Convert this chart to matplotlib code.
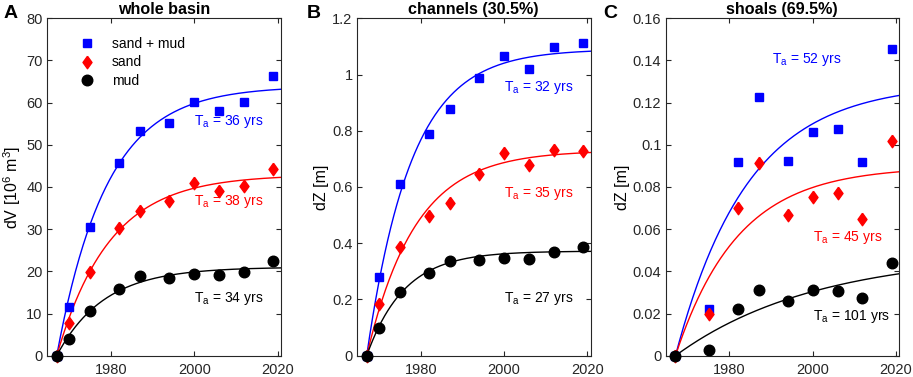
import matplotlib.pyplot as plt
import numpy as np
from matplotlib.ticker import FuncFormatter

plt.rcParams['font.family'] = ['Liberation Sans', 'DejaVu Sans']
plt.rcParams['mathtext.fontset'] = 'custom'
plt.rcParams['mathtext.rm'] = 'Liberation Sans'
plt.rcParams['mathtext.it'] = 'Liberation Sans'

# survey years
years = [1967, 1970, 1975, 1982, 1987, 1994, 2000, 2006, 2012, 2019]
t0 = 1967

# panel A: whole basin, dV [10^6 m3]
a_total = [0, 11.5, 30.4, 45.8, 53.3, 55.1, 60.1, 58.1, 60.1, 66.4]
a_sand = [0, 7.8, 19.8, 30.2, 34.4, 36.6, 41.0, 39.1, 40.3, 44.3]
a_mud = [0, 3.9, 10.7, 15.7, 18.9, 18.4, 19.3, 19.1, 19.9, 22.5]
a_ta = [36, 38, 34]
a_amp = [63.9, 42.9, 21.0]

# panel B: channels, dZ [m]
b_total = [0, 0.279, 0.609, 0.790, 0.879, 0.988, 1.067, 1.020, 1.099, 1.113]
b_sand = [0, 0.183, 0.385, 0.498, 0.542, 0.646, 0.721, 0.677, 0.730, 0.728]
b_mud = [0, 0.097, 0.226, 0.293, 0.338, 0.340, 0.349, 0.345, 0.370, 0.387]
b_ta = [32, 35, 27]
b_amp = [1.09, 0.73, 0.372]

# panel C: shoals, dZ [m] (no 1970 survey)
c_total = [0, np.nan, 0.0221, 0.092, 0.1228, 0.0925, 0.1061, 0.1075, 0.0919, 0.1456]
c_sand = [0, np.nan, 0.0196, 0.0699, 0.0915, 0.0666, 0.0751, 0.0770, 0.0648, 0.102]
c_mud = [0, np.nan, 0.0027, 0.0223, 0.0311, 0.0261, 0.0311, 0.0307, 0.0272, 0.0440]
c_ta = [52, 45, 101]
c_amp = [0.1292, 0.0897, 0.0487]

colors = ['#0000ff', '#ff0000', '#000000']
labels = ['sand + mud', 'sand', 'mud']
diamond = [(0, 1), (0.72, 0), (0, -1), (-0.72, 0), (0, 1)]
markers = ['s', diamond, 'o']
msizes = [6.2, 9.0, 7.6]

panels = [
    dict(letter='A', title='whole basin', ylabel='dV [10$^6$ m$^3$]',
         data=[a_total, a_sand, a_mud], ta=a_ta, amp=a_amp, ylim=(0, 80),
         yticks=np.arange(0, 81, 10),
         txt=[(2000, 55.5), (2000, 36.5), (2000, 13.6)],
         left=46.7, right=281.0, letter_x=4),
    dict(letter='B', title='channels (30.5%)', ylabel='dZ [m]',
         data=[b_total, b_sand, b_mud], ta=b_ta, amp=b_amp, ylim=(0, 1.2),
         yticks=np.arange(0, 1.21, 0.2),
         txt=[(2000, 0.955), (2000, 0.578), (2000, 0.202)],
         left=356.7, right=590.7, letter_x=307),
    dict(letter='C', title='shoals (69.5%)', ylabel='dZ [m]',
         data=[c_total, c_sand, c_mud], ta=c_ta, amp=c_amp, ylim=(0, 0.16),
         yticks=np.arange(0, 0.161, 0.02),
         txt=[(1990.3, 0.1406), (2000, 0.0561), (2000, 0.0185)],
         left=665.5, right=899.0, letter_x=603),
]

W, H = 913, 377
fig = plt.figure(figsize=(W / 100, H / 100), dpi=100)

tfit = np.linspace(t0, 2021, 300)

for p in panels:
    ax = fig.add_axes([p['left'] / W, (H - 355.7) / H,
                       (p['right'] - p['left']) / W, 337.4 / H])
    for k in range(3):
        # saturation fit, Ta = time to reach 95% of the final value
        yfit = p['amp'][k] * (1 - np.exp(-3 * (tfit - t0) / p['ta'][k]))
        ax.plot(tfit, yfit, color=colors[k], lw=1.0, zorder=2)
    for k in range(3):
        ax.plot(years, p['data'][k], linestyle='none', marker=markers[k],
                ms=msizes[k], color=colors[k], mec=colors[k],
                label=labels[k], zorder=3 + k, clip_on=False)
    for k in range(3):
        x, y = p['txt'][k]
        ax.text(x, y, 'T$_\\mathrm{a}$ = %d yrs' % p['ta'][k], color=colors[k],
                fontsize=10, ha='left', va='center')

    ax.set_xlim(1964.6, 2020.8)
    ax.set_ylim(*p['ylim'])
    ax.set_xticks([1980, 2000, 2020])
    ax.set_yticks(p['yticks'])
    ax.yaxis.set_major_formatter(FuncFormatter(lambda v, pos: '%g' % round(v, 4)))
    ax.tick_params(direction='in', top=True, right=True, length=3.5,
                   width=0.8, labelsize=10.5, colors='#262626', pad=3)
    ax.tick_params(axis='x', pad=5)
    for s in ax.spines.values():
        s.set_color('#262626')
        s.set_linewidth(0.8)
    ax.set_ylabel(p['ylabel'], fontsize=11.5, labelpad=2)
    ax.set_title(p['title'], fontsize=11.6, fontweight='bold', pad=3)
    fig.text(p['letter_x'] / W, 1 - 13.5 / H, p['letter'], fontsize=14,
             fontweight='bold', ha='left', va='center')

    if p['letter'] == 'A':
        ax.legend(loc='upper left', bbox_to_anchor=(0.142, 0.946), frameon=False,
                  fontsize=10, handlelength=1.0, handletextpad=1.3,
                  labelspacing=0.35, borderaxespad=0, borderpad=0)

plt.savefig('out.png', dpi=100)
